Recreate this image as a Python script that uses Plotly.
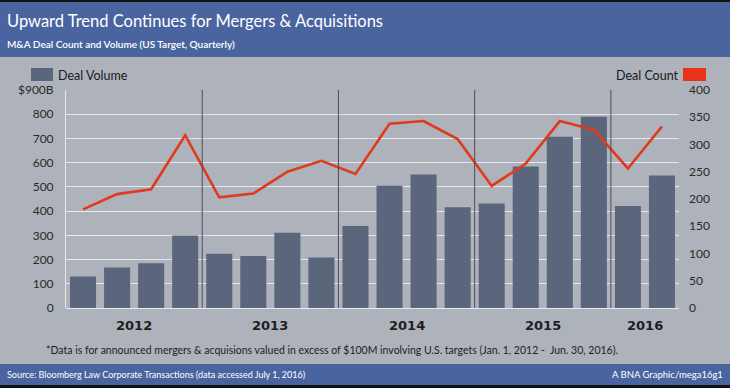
import plotly.graph_objects as go

quarters = ["2012 Q1", "2012 Q2", "2012 Q3", "2012 Q4",
            "2013 Q1", "2013 Q2", "2013 Q3", "2013 Q4",
            "2014 Q1", "2014 Q2", "2014 Q3", "2014 Q4",
            "2015 Q1", "2015 Q2", "2015 Q3", "2015 Q4",
            "2016 Q1", "2016 Q2"]
deal_volume = [130, 167, 185, 299, 224, 215, 311, 208, 339, 505, 551, 416,
               431, 584, 707, 790, 421, 547]
deal_count = [181, 209, 218, 317, 203, 210, 250, 270, 246, 338, 343, 310,
              224, 265, 343, 327, 256, 333]
years = ["2012", "2013", "2014", "2015", "2016"]
year_centers = [1.5, 5.5, 9.5, 13.5, 16.5]
year_breaks = [3.5, 7.5, 11.5, 15.5]
left_ticks = [0, 100, 200, 300, 400, 500, 600, 700, 800, 900]
left_labels = ["0", "100", "200", "300", "400", "500", "600", "700", "800", "$900B"]
right_ticks = [0, 50, 100, 150, 200, 250, 300, 350, 400]

W, H = 730, 388
L, R, T, B = 66, 679, 90, 308
FONT = "Liberation Sans Narrow, Lato, Roboto, sans-serif"

def px(x):
    return (x - L) / (R - L)

def py(y):
    return (B - y) / (B - T)

xi = list(range(len(quarters)))

fig = go.Figure()
fig.add_trace(go.Bar(x=xi, y=deal_volume, name="Deal Volume",
                     marker=dict(color="#5b667c", line=dict(width=0)),
                     hovertext=quarters, showlegend=False))
fig.add_trace(go.Scatter(x=xi, y=deal_count, name="Deal Count", yaxis="y2",
                         mode="lines", line=dict(color="#e03a1c", width=2.6),
                         hovertext=quarters, showlegend=False))

shapes = []
# header band
shapes.append(dict(type="rect", xref="paper", yref="paper", x0=px(0), x1=px(W),
                   y0=py(57), y1=py(2), fillcolor="#4a64a0", line=dict(width=0), layer="below"))
shapes.append(dict(type="rect", xref="paper", yref="paper", x0=px(0), x1=px(W),
                   y0=py(2), y1=py(0), fillcolor="#111111", line=dict(width=0), layer="below"))
# footer band
shapes.append(dict(type="rect", xref="paper", yref="paper", x0=px(0), x1=px(W),
                   y0=py(385), y1=py(364), fillcolor="#4a64a0", line=dict(width=0), layer="below"))
shapes.append(dict(type="rect", xref="paper", yref="paper", x0=px(0), x1=px(W),
                   y0=py(388), y1=py(385), fillcolor="#111111", line=dict(width=0), layer="below"))
# year separators
for xb in year_breaks:
    shapes.append(dict(type="line", xref="x", yref="y", x0=xb, x1=xb, y0=0, y1=900,
                       line=dict(color="#4a4f58", width=1)))
# legend swatches
shapes.append(dict(type="rect", xref="paper", yref="paper", x0=px(31), x1=px(53),
                   y0=py(81), y1=py(68), fillcolor="#5b667c", line=dict(width=0)))
shapes.append(dict(type="rect", xref="paper", yref="paper", x0=px(683), x1=px(706),
                   y0=py(81), y1=py(68), fillcolor="#e8321a", line=dict(width=0)))

ann = []
ann.append(dict(text="Upward Trend Continues for Mergers & Acquisitions", xref="paper", yref="paper",
                x=px(5), y=py(21), xanchor="left", yanchor="middle", showarrow=False,
                font=dict(family=FONT, size=16.5, color="white")))
ann.append(dict(text="M&A Deal Count and Volume (US Target, Quarterly)", xref="paper", yref="paper",
                x=px(5), y=py(44), xanchor="left", yanchor="middle", showarrow=False,
                font=dict(family=FONT, size=10, color="white", weight=600)))
ann.append(dict(text="Deal Volume", xref="paper", yref="paper",
                x=px(56), y=py(75), xanchor="left", yanchor="middle", showarrow=False,
                font=dict(family=FONT, size=12.5, color="#1a1a1a")))
ann.append(dict(text="Deal Count", xref="paper", yref="paper",
                x=px(681), y=py(75), xanchor="right", yanchor="middle", showarrow=False,
                font=dict(family=FONT, size=12.5, color="#1a1a1a")))
for yl, xc in zip(years, year_centers):
    ann.append(dict(text="<b>%s</b>" % yl, xref="x", yref="paper", x=xc, y=py(325),
                    xanchor="center", yanchor="middle", showarrow=False,
                    font=dict(family="DejaVu Sans, Verdana, sans-serif", size=13, color="#1e1e1e")))
ann.append(dict(text="*Data is for announced mergers & acquisions valued in excess of $100M involving U.S. targets (Jan. 1, 2012 -  Jun. 30, 2016).",
                xref="paper", yref="paper", x=px(332), y=py(350), xanchor="center", yanchor="middle",
                showarrow=False, font=dict(family=FONT, size=10.5, color="#1e1e1e")))
ann.append(dict(text="Source: Bloomberg Law Corporate Transactions (data accessed July 1, 2016)",
                xref="paper", yref="paper", x=px(5), y=py(374.5), xanchor="left", yanchor="middle",
                showarrow=False, font=dict(family=FONT, size=9, color="white")))
ann.append(dict(text="A BNA Graphic/mega16g1",
                xref="paper", yref="paper", x=px(725), y=py(374.5), xanchor="right", yanchor="middle",
                showarrow=False, font=dict(family=FONT, size=9.5, color="white")))

fig.update_layout(
    width=W, height=H,
    margin=dict(l=L, r=W - R, t=T, b=H - B, pad=0),
    paper_bgcolor="#adb2bb", plot_bgcolor="rgba(0,0,0,0)",
    bargap=0.235,
    shapes=shapes, annotations=ann,
    xaxis=dict(range=[-0.5, 17.5], showticklabels=False, showgrid=False, zeroline=False,
               ticks="", fixedrange=True),
    yaxis=dict(range=[0, 900], tickvals=left_ticks, ticktext=left_labels,
               showgrid=True, gridcolor="#e6e8ec", gridwidth=1, zeroline=True,
               zerolinecolor="#e6e8ec", zerolinewidth=1, showline=True, linecolor="#e6e8ec",
               linewidth=1, ticks="", ticklabelstandoff=9,
               tickfont=dict(family=FONT, size=12, color="#2a2a2a")),
    yaxis2=dict(range=[0, 400], tickvals=right_ticks, overlaying="y", side="right",
                showgrid=False, zeroline=False, showline=False, ticks="", ticklabelstandoff=9,
                tickfont=dict(family=FONT, size=12, color="#2a2a2a")),
    hovermode=False,
)

fig.write_html("out.html", config={"displayModeBar": False},
               post_script="document.body.style.margin='0';document.body.style.overflow='hidden';")
